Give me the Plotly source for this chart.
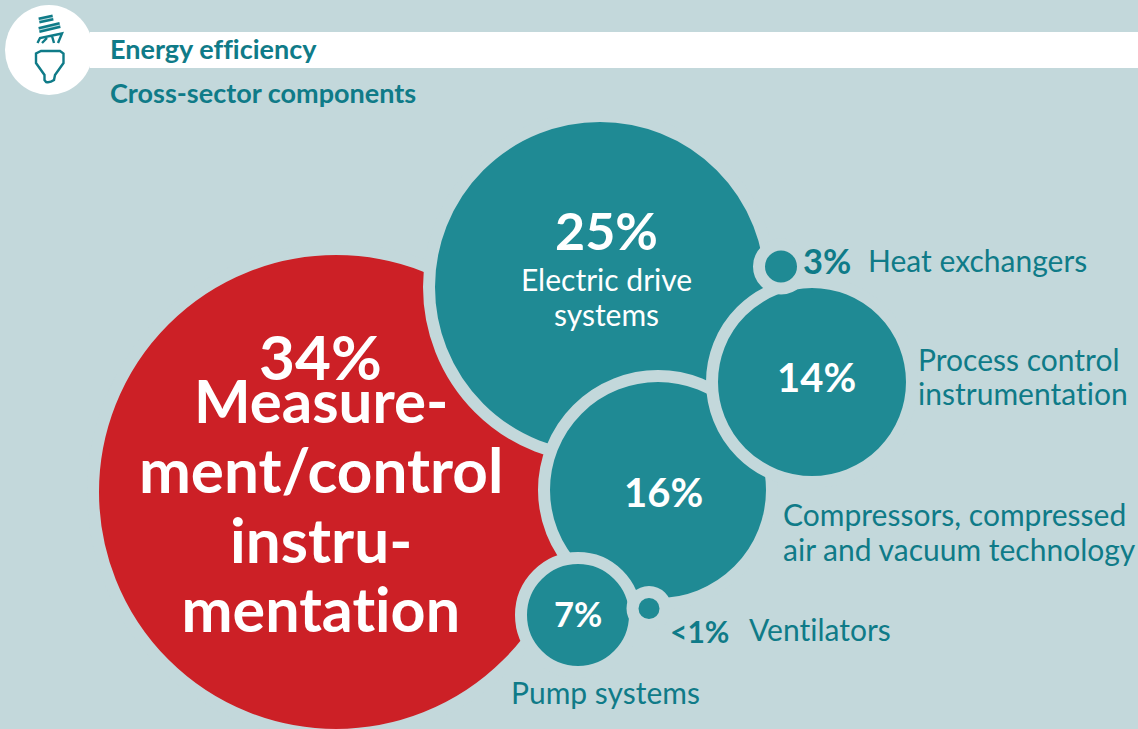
import plotly.graph_objects as go

# ---- data
categories = ["Measurement/control instrumentation", "Electric drive systems", "Compressors, compressed air and vacuum technology",
              "Process control instrumentation", "Pump systems", "Heat exchangers", "Ventilators"]
shares = ["34%", "25%", "16%", "14%", "7%", "3%", "<1%"]
radius_px = [237, 165, 108, 94, 51, 16, 10.5]

# ---- layout of the bubbles
cx = [336, 600, 658, 812, 578, 781, 649]
cy = [492, 287, 490, 382, 615, 266.5, 608.5]
colors = ["#CC2026", "#1F8A94", "#1F8A94", "#1F8A94", "#1F8A94", "#1F8A94", "#1F8A94"]
GAP = 12
BG = "#C3D8DB"
TEAL = "#0F7B88"
FONT = "Lato"

fig = go.Figure()
for i in range(len(categories)):
    fig.add_trace(go.Scatter(
        x=[cx[i]], y=[cy[i]], mode="markers", name=categories[i], showlegend=False, hoverinfo="name",
        cliponaxis=True,
        marker=dict(size=2 * radius_px[i] + GAP, color=colors[i], opacity=1, line=dict(color=BG, width=GAP)),
    ))

def label(x, y, text, size, color, bold=False, anchor="left"):
    t = f"<b>{text}</b>" if bold else text
    fig.add_annotation(x=x, y=y, text=t, showarrow=False, xanchor=anchor, yanchor="middle",
                       xref="x", yref="y", align=anchor, xshift=0,
                       font=dict(family=FONT, size=size, color=color))

# titles
label(108, 48, "Energy efficiency", 27, TEAL, True)
label(108, 92, "Cross-sector components", 27, TEAL, True)

# inside the bubbles
label(320, 356, shares[0], 62, "white", True, "center")
for y, t, s in zip([400, 469, 539, 608], ["Measure-", "ment/control", "instru-", "mentation"], [60, 62, 62, 61]):
    label(321, y, t, s, "white", True, "center")
label(606, 230, shares[1], 52, "white", True, "center")
for y, t in zip([279, 314], ["Electric drive", "systems"]):
    label(606, y, t, 30, "white", False, "center")
label(663, 492, shares[2], 40, "white", True, "center")
label(816, 377, shares[3], 40, "white", True, "center")
label(578, 613, shares[4], 34.5, "white", True, "center")

# outside the bubbles
label(801, 260, shares[5], 34.5, TEAL, True)
label(866, 260, "Heat exchangers", 30, TEAL)
label(916, 359, "Process control", 30, TEAL)
label(916, 393, "instrumentation", 30, TEAL)
label(781, 514, "Compressors, compressed", 30, TEAL)
label(781, 549, "air and vacuum technology", 30, TEAL)
label(668, 631, shares[6], 30, TEAL, True)
label(747, 629, "Ventilators", 30, TEAL)
label(509, 692, "Pump systems", 30, TEAL)

def box(x0, y0, x1, y1, fill):
    return dict(type="rect", x0=x0, y0=y0, x1=x1, y1=y1, xref="x", yref="y", fillcolor=fill, line_width=0, layer="below")

shapes = [
    box(90, 32, 1138, 68, "white"),
    dict(type="circle", x0=5, y0=5, x1=93, y1=95, xref="x", yref="y", fillcolor="white", line_width=0, layer="below"),
]
icon = [
    ("M39,20.5 L53,17.5", 6, TEAL),
    ("M39,20.5 L53,17.5", 1.2, "#BFDDE0"),
    ("M39,30 L60,25", 6, TEAL),
    ("M39,30 L60,25", 1.2, "#BFDDE0"),
    ("M37.5,43 L40,38 L62,33.5 L58,43 M42,43 L47,38 M52,36 L54,43", 2.4, TEAL),
    ("M41,51 L60,51 L63.5,53.5 L63.5,63 L55,75 L54,80 Q50,83 46,82 L44.5,80 L44.5,75 L36,63 L36,53.5 Z", 2.4, TEAL),
]
for p, w, c in icon:
    shapes.append(dict(type="path", path=p, xref="x", yref="y", layer="below", line=dict(color=c, width=w)))

fig.update_layout(
    width=1138, height=729, margin=dict(l=0, r=0, t=0, b=0),
    paper_bgcolor=BG, plot_bgcolor=BG, shapes=shapes, showlegend=False,
    xaxis=dict(range=[0, 1138], visible=False, fixedrange=True),
    yaxis=dict(range=[729, 0], visible=False, fixedrange=True),
)
post = ("document.body.style.margin='0';document.body.style.overflow='hidden';document.body.style.background='#C3D8DB';"
        "var s=document.createElement('style');"
        "s.textContent='text,tspan{font-variant-ligatures:none !important;font-feature-settings:\"liga\" 0,\"clig\" 0,\"dlig\" 0 !important;letter-spacing:0.01px;}';"
        "document.head.appendChild(s);")
fig.write_html("out.html", config={"displayModeBar": False}, post_script=post)
